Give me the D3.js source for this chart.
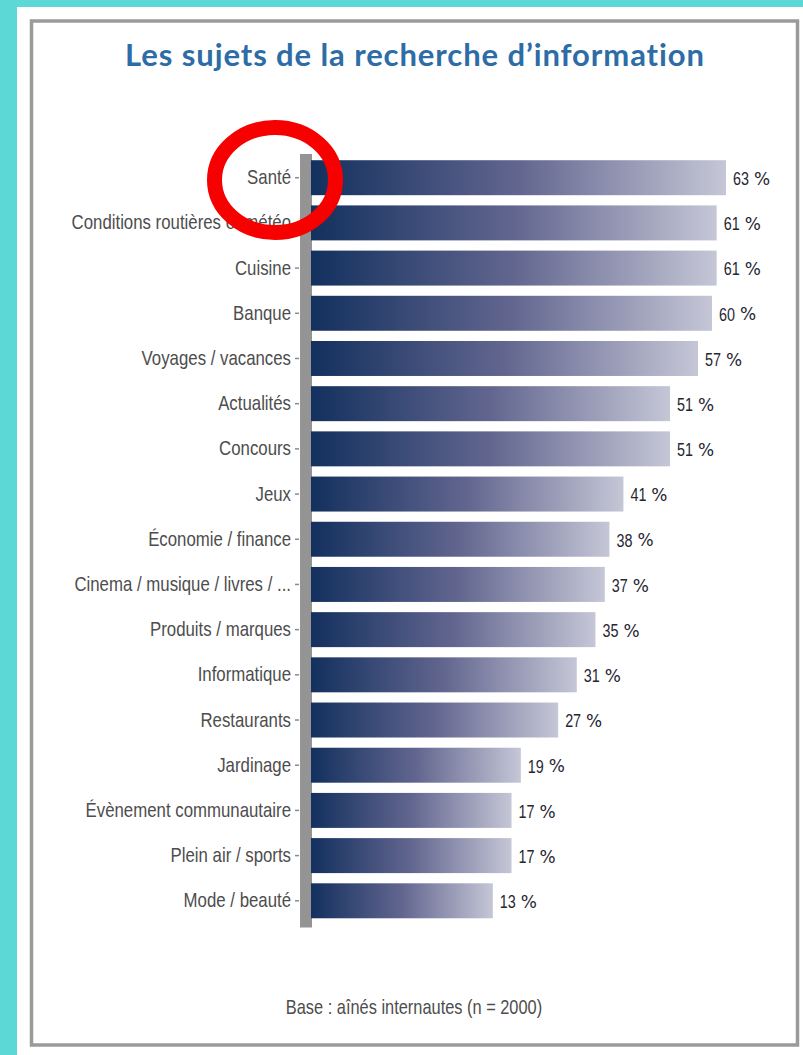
<!DOCTYPE html>
<html>
<head>
<meta charset="utf-8">
<script src="https://cdn.jsdelivr.net/npm/d3@7"></script>
<style>
  html, body { margin: 0; padding: 0; background: #5cd8d6; }
  svg { display: block; }
</style>
</head>
<body>
<svg id="chart" width="803" height="1055"></svg>
<script>
const categories = ["Santé", "Conditions routières et météo", "Cuisine", "Banque", "Voyages / vacances",
  "Actualités", "Concours", "Jeux", "Économie / finance", "Cinema / musique / livres / ...",
  "Produits / marques", "Informatique", "Restaurants", "Jardinage", "Évènement communautaire",
  "Plein air / sports", "Mode / beauté"];
const values = [63, 61, 61, 60, 57, 51, 51, 41, 38, 37, 35, 31, 27, 19, 17, 17, 13];
const titleText = "Les sujets de la recherche d’information";
const noteText = "Base : aînés internautes (n = 2000)";
const valueSuffix = "%";

const sans = "'Liberation Sans', Arial, sans-serif";
const SX = 0.82; // horizontal condensation of the label font
const svg = d3.select("#chart");

// page background: teal edges, white sheet
svg.append("rect").attr("x", 0).attr("y", 0).attr("width", 803).attr("height", 1055).attr("fill", "#5cd8d6");
svg.append("rect").attr("x", 17).attr("y", 7).attr("width", 786).attr("height", 1048).attr("fill", "#ffffff");
// frame
svg.append("rect").attr("x", 31.5).attr("y", 21).attr("width", 766).attr("height", 1024)
  .attr("fill", "none").attr("stroke", "#9a9a9a").attr("stroke-width", 3.5);

// gradient
const defs = svg.append("defs");
const grad = defs.append("linearGradient").attr("id", "barGrad")
  .attr("x1", "0%").attr("x2", "100%").attr("y1", "0%").attr("y2", "0%");
grad.append("stop").attr("offset", "0%").attr("stop-color", "#13305e");
grad.append("stop").attr("offset", "50%").attr("stop-color", "#62668f");
grad.append("stop").attr("offset", "100%").attr("stop-color", "#c5c6d6");

// title
svg.append("text").attr("x", 415).attr("y", 66).attr("text-anchor", "middle")
  .attr("font-family", "Lato, 'Open Sans', sans-serif").attr("font-weight", 700)
  .attr("font-size", 31).attr("letter-spacing", 0.9).attr("fill", "#2d6ca6").text(titleText);

// scales
const x = d3.scaleLinear().domain([-26, 63]).range([311, 726]);
const y = d3.scaleBand().domain(categories).range([150, 928.5]).padding(0.226);
const x0 = x(x.domain()[0]);

// gray axis bar
svg.append("rect").attr("x", 300).attr("y", y.range()[0] + 4)
  .attr("width", 12).attr("height", y.range()[1] - y.range()[0] - 5)
  .attr("fill", "#949494");

// bars
svg.append("g").selectAll("rect").data(values).join("rect")
  .attr("x", x0)
  .attr("y", (d, i) => y(categories[i]))
  .attr("width", d => x(d) - x0)
  .attr("height", y.bandwidth())
  .attr("fill", "url(#barGrad)");

// value labels: number (condensed) + wide percent sign
const vl = svg.append("g").selectAll("g").data(values).join("g")
  .attr("transform", (d, i) => `translate(${x(d) + 7},${y(categories[i]) + y.bandwidth() / 2 + 1})`);
vl.append("text")
  .attr("transform", `scale(${SX},1)`)
  .attr("dy", "0.36em")
  .attr("font-family", sans).attr("font-size", 17.5).attr("fill", "#262633")
  .text(d => d);
vl.append("text")
  .attr("x", function () {
    const t = d3.select(this.parentNode).select("text").node();
    return t.getComputedTextLength() * SX + 5;
  })
  .attr("dy", "0.36em")
  .attr("font-family", "'DejaVu Sans', sans-serif").attr("font-size", 17).attr("fill", "#262633")
  .text(valueSuffix);

// category axis
const axis = svg.append("g").attr("transform", "translate(299,0)")
  .call(d3.axisLeft(y).tickSize(4).tickPadding(4));
axis.select(".domain").remove();
axis.selectAll(".tick line").attr("stroke", "#8a8a8a").attr("stroke-width", 1.5);
axis.selectAll(".tick text").attr("font-family", sans).attr("font-size", 20.5)
  .attr("fill", "#4d4d4d").attr("dy", "0.32em")
  .attr("x", -8 / SX).attr("transform", `scale(${SX},1)`);

// footnote
svg.append("text").attr("transform", `translate(414,1014) scale(${SX},1)`)
  .attr("text-anchor", "middle")
  .attr("font-family", sans).attr("font-size", 20).attr("fill", "#4d4d4d").text(noteText);

// red annotation circle
svg.append("ellipse").attr("cx", 275).attr("cy", 180).attr("rx", 60.5).attr("ry", 52.5)
  .attr("fill", "none").attr("stroke", "#f60000").attr("stroke-width", 15);
</script>
</body>
</html>
